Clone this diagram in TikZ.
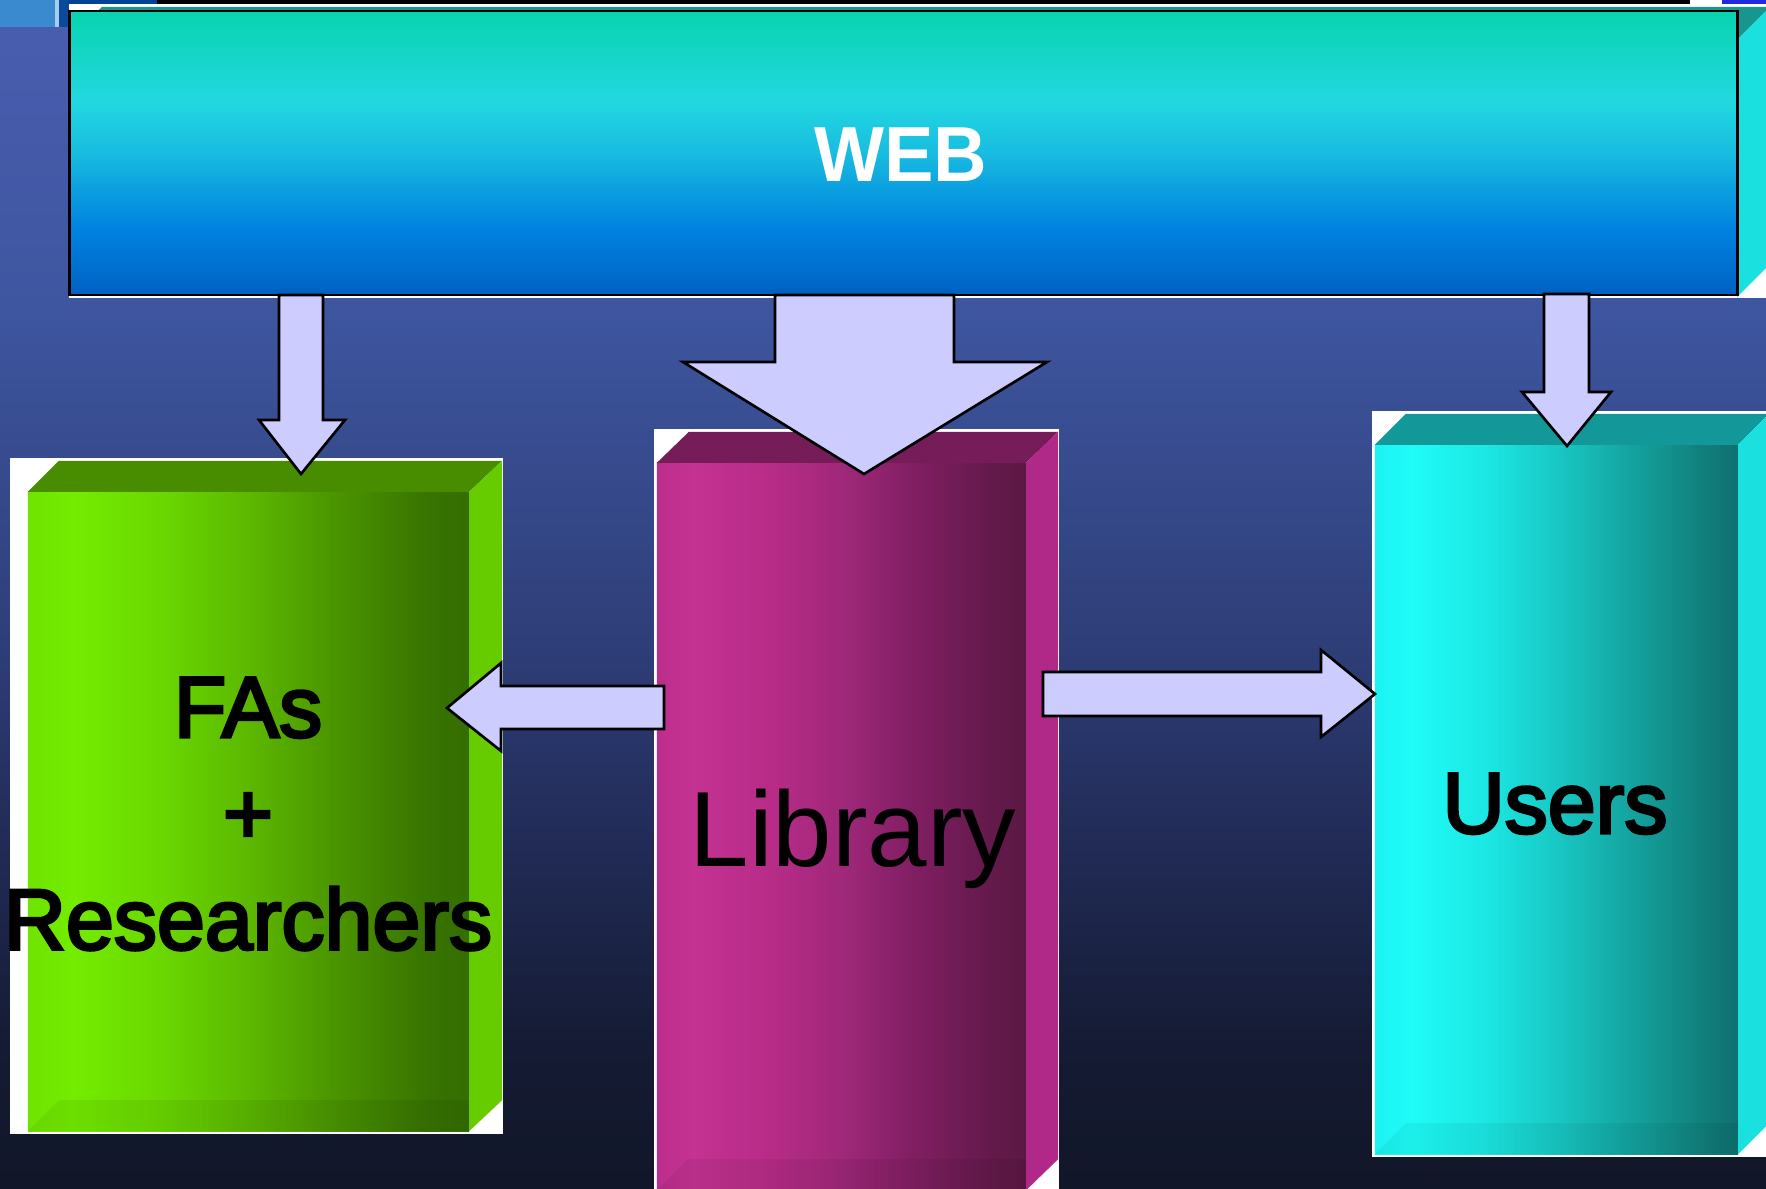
\documentclass[tikz,border=0pt]{standalone}
\usepackage{fontspec}
\setmainfont{Liberation Sans}
\newfontfamily\heavyfont[FakeBold=3.5]{Liberation Sans}

\definecolor{bgA}{HTML}{111628}
\definecolor{bgB}{HTML}{151B34}
\definecolor{bgC}{HTML}{222C58}
\definecolor{bgD}{HTML}{2E3E78}
\definecolor{bgE}{HTML}{3E56A0}
\definecolor{bgF}{HTML}{4A5EB0}
\definecolor{webA}{HTML}{0060C0}
\definecolor{webB}{HTML}{0070D0}
\definecolor{webC}{HTML}{0080E0}
\definecolor{webD}{HTML}{0898E0}
\definecolor{webE}{HTML}{18BCE0}
\definecolor{webF}{HTML}{22D8E0}
\definecolor{webG}{HTML}{08D4B0}
\definecolor{grnA}{HTML}{6EE400}
\definecolor{grnB}{HTML}{74EC00}
\definecolor{grnC}{HTML}{6AD800}
\definecolor{grnD}{HTML}{5CB800}
\definecolor{grnE}{HTML}{4A9400}
\definecolor{grnF}{HTML}{387400}
\definecolor{grnG}{HTML}{346E00}
\definecolor{magA}{HTML}{BC2E8C}
\definecolor{magB}{HTML}{C43292}
\definecolor{magC}{HTML}{B82C88}
\definecolor{magD}{HTML}{A0287A}
\definecolor{magE}{HTML}{801E62}
\definecolor{magF}{HTML}{641A4C}
\definecolor{magG}{HTML}{5C1844}
\definecolor{cynA}{HTML}{1CF2F2}
\definecolor{cynB}{HTML}{1EFCF8}
\definecolor{cynC}{HTML}{1CE8E4}
\definecolor{cynD}{HTML}{18C8C4}
\definecolor{cynE}{HTML}{14A4A0}
\definecolor{cynF}{HTML}{10807C}
\definecolor{cynG}{HTML}{0E7070}
\definecolor{webtop}{HTML}{16968E}
\definecolor{webside}{HTML}{1AE0E0}
\definecolor{greentop}{HTML}{488C00}
\definecolor{greenside}{HTML}{66CC00}
\definecolor{magtop}{HTML}{761C58}
\definecolor{magside}{HTML}{B02888}
\definecolor{cyantop}{HTML}{129898}
\definecolor{cyanside}{HTML}{1AE0E0}
\definecolor{arrowfill}{HTML}{CCCCFF}
\definecolor{stripA}{HTML}{3A8AD0}
\definecolor{stripB}{HTML}{A8CCF0}
\definecolor{stripC}{HTML}{0A4A9A}
\definecolor{stripD}{HTML}{00449A}
\definecolor{logoblue}{HTML}{2028E0}

\pgfdeclareverticalshading{bgshade}{100bp}{color(0bp)=(bgA); color(25bp)=(bgA);
  color(31bp)=(bgB); color(40bp)=(bgC); color(48bp)=(bgD); color(62bp)=(bgE);
  color(75bp)=(bgF); color(100bp)=(bgF)}
\pgfdeclareverticalshading{webshade}{100bp}{color(0bp)=(webA); color(25bp)=(webA);
  color(30bp)=(webB); color(36bp)=(webC); color(42bp)=(webD); color(50bp)=(webE);
  color(59bp)=(webF); color(75bp)=(webG); color(100bp)=(webG)}
\pgfdeclarehorizontalshading{greenfront}{100bp}{color(0bp)=(grnA); color(25bp)=(grnA);
  color(30bp)=(grnB); color(40bp)=(grnC); color(50bp)=(grnD); color(60bp)=(grnE);
  color(70bp)=(grnF); color(75bp)=(grnG); color(100bp)=(grnG)}
\pgfdeclarehorizontalshading{magfront}{100bp}{color(0bp)=(magA); color(25bp)=(magA);
  color(30bp)=(magB); color(40bp)=(magC); color(50bp)=(magD); color(60bp)=(magE);
  color(70bp)=(magF); color(75bp)=(magG); color(100bp)=(magG)}
\pgfdeclarehorizontalshading{cyanfront}{100bp}{color(0bp)=(cynA); color(25bp)=(cynA);
  color(30bp)=(cynB); color(40bp)=(cynC); color(50bp)=(cynD); color(60bp)=(cynE);
  color(70bp)=(cynF); color(75bp)=(cynG); color(100bp)=(cynG)}

\begin{document}
\begin{tikzpicture}[x=0.01cm, y=-0.01cm,
    face/.style={inner sep=0, outer sep=0, shade},
    blockarrow/.style={fill=arrowfill, draw=black, line width=0.75pt, line join=miter},
    lbl/.style={inner sep=0, text=black, font=\heavyfont\fontsize{24.5}{30.2}\selectfont}]

    \useasboundingbox (0,0) rectangle (1766,1189);
    % background
    \shade[shading=bgshade] (0,0) rectangle (1766,1189);

    % strip along the top edge
    \fill[stripA] (0,0) rectangle (55,27);
    \fill[stripB] (55,0) rectangle (59,27);
    \fill[stripC] (59,0) rectangle (69,27);
    \fill[stripD] (69,0) rectangle (157,4);
    \fill[black] (157,0) rectangle (1690,4);
    \fill[white] (1690,0) rectangle (1766,6);
    \fill[logoblue] (1722,0) rectangle (1766,4);

    % WEB
    \fill[white] (69,4) rectangle (1770,298);
    \fill[webtop] (69,40) -- (102,7) -- (1770,7) -- (1737,40) -- cycle;
    \fill[webside] (1737,40) -- (1770,7) -- (1770,264) -- (1737,297) -- cycle;
    \node[face, shading=webshade, draw=black, line width=0.6pt,
        minimum width=16.67cm, minimum height=2.84cm] (web) at (903.5,153) {};

    % FAs + Researchers
    \fill[white] (10,458) rectangle (503,1134);
    \node[face, shading=greenfront, minimum width=4.41cm, minimum height=6.39cm] (fas) at (248.5,811.5) {};
    \fill[greentop] (fas.north west) -- ++(31,-31) -- ([shift={(33,-31)}]fas.north east) -- (fas.north east) -- cycle;
    \fill[greenside] (fas.north east) -- ++(33,-31) -- ([shift={(33,-31)}]fas.south east) -- (fas.south east) -- cycle;
    \fill[black, opacity=0.06] (fas.south west) -- ++(31,-31) -- ([shift={(0,-31)}]fas.south east) -- (fas.south east) -- cycle;

    % Library
    \fill[white] (654,429) rectangle (1059,1195);
    \node[face, shading=magfront, minimum width=3.69cm, minimum height=7.27cm] (lib) at (841.5,826.5) {};
    \fill[magtop] (lib.north west) -- ++(32,-31) -- ([shift={(32,-31)}]lib.north east) -- (lib.north east) -- cycle;
    \fill[magside] (lib.north east) -- ++(32,-31) -- ([shift={(32,-31)}]lib.south east) -- (lib.south east) -- cycle;
    \fill[black, opacity=0.06] (lib.south west) -- ++(31,-31) -- ([shift={(0,-31)}]lib.south east) -- (lib.south east) -- cycle;

    % Users
    \fill[white] (1372,411) rectangle (1770,1157);
    \node[face, shading=cyanfront, minimum width=3.63cm, minimum height=7.09cm] (usr) at (1556.5,799.5) {};
    \fill[cyantop] (usr.north west) -- ++(31,-31) -- ([shift={(31,-31)}]usr.north east) -- (usr.north east) -- cycle;
    \fill[cyanside] (usr.north east) -- ++(31,-31) -- ([shift={(31,-31)}]usr.south east) -- (usr.south east) -- cycle;
    \fill[black, opacity=0.05] (usr.south west) -- ++(31,-31) -- ([shift={(0,-31)}]usr.south east) -- (usr.south east) -- cycle;

    % arrows
    \draw[blockarrow] (279,295) -- (323,295) -- (323,420) -- (345,420) -- (301,474)
        -- (259,420) -- (279,420) -- cycle;
    \draw[blockarrow] (775,295) -- (954,295) -- (954,362) -- (1047,362) -- (864,474)
        -- (683,362) -- (775,362) -- cycle;
    \draw[blockarrow] (1544,294) -- (1589,294) -- (1589,392) -- (1611,392) -- (1567,446)
        -- (1522,392) -- (1544,392) -- cycle;
    \draw[blockarrow] (664,686) -- (664,729) -- (501,729) -- (501,751) -- (447,708)
        -- (501,663) -- (501,686) -- cycle;
    \draw[blockarrow] (1043,672) -- (1321,672) -- (1321,650) -- (1375,694) -- (1321,737)
        -- (1321,716) -- (1043,716) -- cycle;

    % labels
    \node[lbl, text=white, xscale=0.95, font=\fontsize{22.2}{26}\selectfont\bfseries, anchor=base] (webtxt) at (901,182) {WEB};
    \node[lbl, align=center] (fastxt) at (248,814) {FAs\\+\\Researchers};
    \node[lbl, font=\fontsize{30.4}{36}\selectfont, anchor=base] (libtxt) at (853,867) {Library};
    \node[lbl, anchor=base] (usrtxt) at (1555,833) {Users};
\end{tikzpicture}
\end{document}
